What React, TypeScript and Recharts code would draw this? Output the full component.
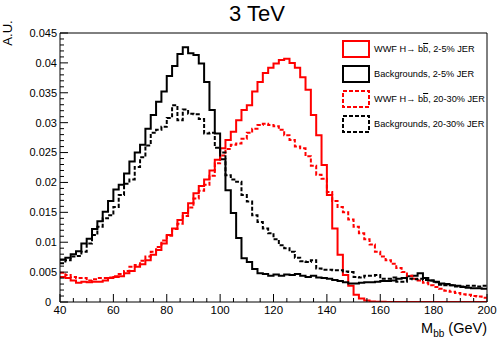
import { ComposedChart, Line, XAxis, YAxis, Legend, ReferenceLine } from 'recharts';

// lower edges of the 2 GeV mass bins, 40 .. 198
const massBins = Array.from({ length: 80 }, (_, i) => 40 + 2 * i);

// WWF H -> bb, 2-5% JER (red, solid)
const sigSharp = [
    0.0042, 0.0040, 0.0036, 0.0032, 0.0034, 0.0033, 0.0034, 0.0034, 0.0036, 0.0040,
    0.0042, 0.0043, 0.0048, 0.0052, 0.0059, 0.0063, 0.0070, 0.0079, 0.0087, 0.0098,
    0.0112, 0.0123, 0.0137, 0.0149, 0.0165, 0.0182, 0.0194, 0.0205, 0.0220, 0.0238,
    0.0257, 0.0271, 0.0285, 0.0304, 0.0321, 0.0329, 0.0352, 0.0368, 0.0383, 0.0392,
    0.0399, 0.0405, 0.0407, 0.0400, 0.0392, 0.0376, 0.0355, 0.0313, 0.0279, 0.0229,
    0.0179, 0.0123, 0.0079, 0.0045, 0.0027, 0.0012, 0.0006, 0.00025, 0.0001, 0.00005,
    0.00003, 0.00002, 0.00002, 0.00001, 0, 0, 0, 0, 0, 0,
    0, 0, 0, 0, 0, 0, 0, 0, 0, 0,
];

// Backgrounds, 2-5% JER (black, solid)
const bgSharp = [
    0.0071, 0.0074, 0.0080, 0.0085, 0.0098, 0.0106, 0.0122, 0.0135, 0.0151, 0.0169,
    0.0188, 0.0196, 0.0215, 0.0235, 0.0250, 0.0263, 0.0290, 0.0313, 0.0335, 0.0352,
    0.0378, 0.0395, 0.0415, 0.0426, 0.0416, 0.0413, 0.0399, 0.0368, 0.0321, 0.0282,
    0.0239, 0.0187, 0.0149, 0.0107, 0.0073, 0.0067, 0.0055, 0.0048, 0.0047, 0.0044,
    0.0046, 0.0044, 0.0046, 0.0045, 0.0047, 0.0044, 0.0042, 0.0044, 0.0041, 0.0040,
    0.0039, 0.0037, 0.0035, 0.0033, 0.0031, 0.0031, 0.0032, 0.0033, 0.0033, 0.0034,
    0.0035, 0.0035, 0.0036, 0.0039, 0.0040, 0.0043, 0.0044, 0.0048, 0.0040, 0.0036,
    0.0034, 0.0031, 0.0030, 0.0028, 0.0027, 0.0025, 0.0024, 0.0023, 0.0023, 0.0022,
];

// WWF H -> bb, 20-30% JER (red, dashed)
const sigBroad = [
    0.0049, 0.0045, 0.0042, 0.0040, 0.0040, 0.0036, 0.0038, 0.0040, 0.0040, 0.0041,
    0.0043, 0.0047, 0.0052, 0.0059, 0.0062, 0.0069, 0.0076, 0.0084, 0.0092, 0.0103,
    0.0111, 0.0122, 0.0131, 0.0144, 0.0158, 0.0173, 0.0186, 0.0196, 0.0211, 0.0232,
    0.0245, 0.0256, 0.0263, 0.0265, 0.0273, 0.0283, 0.0290, 0.0296, 0.0298, 0.0296,
    0.0294, 0.0288, 0.0279, 0.0271, 0.0260, 0.0257, 0.0244, 0.0228, 0.0213, 0.0206,
    0.0184, 0.0169, 0.0159, 0.0150, 0.0138, 0.0126, 0.0115, 0.0105, 0.0096, 0.0084,
    0.0076, 0.0070, 0.0064, 0.0057, 0.0050, 0.0044, 0.0039, 0.0036, 0.0032, 0.0028,
    0.0025, 0.0022, 0.0019, 0.0017, 0.0015, 0.0013, 0.0012, 0.0010, 0.0009, 0.0007,
];

// Backgrounds, 20-30% JER (black, dashed)
const bgBroad = [
    0.0065, 0.0070, 0.0076, 0.0077, 0.0084, 0.0098, 0.0112, 0.0126, 0.0140, 0.0145,
    0.0159, 0.0179, 0.0198, 0.0205, 0.0226, 0.0242, 0.0262, 0.0283, 0.0288, 0.0293,
    0.0308, 0.0329, 0.0304, 0.0322, 0.0315, 0.0314, 0.0306, 0.0282, 0.0283, 0.0258,
    0.0250, 0.0212, 0.0205, 0.0201, 0.0179, 0.0168, 0.0145, 0.0134, 0.0123, 0.0115,
    0.0105, 0.0095, 0.0090, 0.0084, 0.0074, 0.0068, 0.0067, 0.0070, 0.0056, 0.0054,
    0.0054, 0.0053, 0.0053, 0.0051, 0.0050, 0.0042, 0.0041, 0.0044, 0.0044, 0.0045,
    0.0039, 0.0039, 0.0041, 0.0034, 0.0034, 0.0039, 0.0038, 0.0039, 0.0037, 0.0036,
    0.0033, 0.0029, 0.0028, 0.0028, 0.0026, 0.0026, 0.0027, 0.0027, 0.0026, 0.0027,
];

const xTicks = [40, 45, 50, 55, 60, 65, 70, 75, 80, 85, 90, 95, 100, 105, 110, 115, 120,
    125, 130, 135, 140, 145, 150, 155, 160, 165, 170, 175, 180, 185, 190, 195, 200];
const xLabels = [40, 60, 80, 100, 120, 140, 160, 180, 200];
const yLabels = [0, 0.005, 0.01, 0.015, 0.02, 0.025, 0.03, 0.035, 0.04, 0.045];
const yTicks = Array.from({ length: 46 }, (_, i) => i / 1000);

const font = '"Liberation Sans", Arial, Helvetica, sans-serif';

// step histogram: one row per bin edge, the last edge repeats the last bin
const rows = massBins.map((m, i) => ({
    m,
    sigSharp: sigSharp[i],
    bgSharp: bgSharp[i],
    sigBroad: sigBroad[i],
    bgBroad: bgBroad[i],
}));
rows.push({ ...rows[rows.length - 1], m: 200 });

const series = [
    { key: 'sigSharp', color: '#ff0000', dash: undefined, sig: true, jer: '2-5% JER' },
    { key: 'bgSharp', color: '#000000', dash: undefined, sig: false, jer: '2-5% JER' },
    { key: 'sigBroad', color: '#ff0000', dash: '4 2', sig: true, jer: '20-30% JER' },
    { key: 'bgBroad', color: '#000000', dash: '4 2', sig: false, jer: '20-30% JER' },
];

const PLOT_LEFT = 60;
const PLOT_BOTTOM = 302;

function YTick({ y, payload }: any) {
    const v = payload.value;
    const major = yLabels.some((l) => Math.abs(l - v) < 1e-9);
    return (
        <g>
            <line x1={PLOT_LEFT} x2={PLOT_LEFT + (major ? 8 : 4)} y1={y} y2={y} stroke="#000" />
            {major && (
                <text x={v === 0 ? 51 : 57} y={y} dy="0.35em" textAnchor="end"
                    fontSize={11} fontFamily={font} fill="#000">
                    {String(v)}
                </text>
            )}
        </g>
    );
}

function XTick({ x, payload }: any) {
    const v = payload.value;
    const major = xLabels.includes(v);
    return (
        <g>
            <line x1={x} x2={x} y1={PLOT_BOTTOM} y2={PLOT_BOTTOM - (major ? 8 : 4)} stroke="#000" />
            {major && (
                <text x={x} y={314} textAnchor="middle" fontSize={11.5} fontFamily={font} fill="#000">
                    {v}
                </text>
            )}
        </g>
    );
}

function XTitle() {
    return (
        <text x={487} y={333} textAnchor="end" fontSize={14.5} fontFamily={font} fill="#000">
            M<tspan dy={4} fontSize={10}>bb</tspan>
            <tspan dy={-4}> (GeV)</tspan>
        </text>
    );
}

function LegendBox() {
    return (
        <div style={{ fontFamily: font, fontSize: 9.2, color: '#000' }}>
            {series.map((s) => (
                <div key={s.key} style={{ display: 'flex', alignItems: 'center', height: 25 }}>
                    <svg width={31} height={18} style={{ flex: 'none' }}>
                        <rect x={4} y={1} width={26} height={16} fill="none"
                            stroke={s.color} strokeWidth={2} strokeDasharray={s.dash} />
                    </svg>
                    <span style={{ marginLeft: 4, whiteSpace: 'nowrap' }}>
                        {s.sig ? (
                            <>WWF H{'\u2192'} b<span style={{ textDecoration: 'overline' }}>b</span>, {s.jer}</>
                        ) : (
                            <>Backgrounds, {s.jer}</>
                        )}
                    </span>
                </div>
            ))}
        </div>
    );
}

export default function App() {
    return (
        <div style={{ position: 'absolute', left: 0, top: 0, width: 498, height: 340, background: '#fff' }}>
            <div style={{
                position: 'absolute', left: 207, top: 2, width: 100, textAlign: 'center',
                fontFamily: font, fontSize: 22, lineHeight: '24px', color: '#000',
            }}>
                3 TeV
            </div>
            <div style={{
                position: 'absolute', left: -7, top: 26, width: 30, height: 14, textAlign: 'center',
                fontFamily: font, fontSize: 13, lineHeight: '14px', color: '#000',
                transform: 'rotate(-90deg)', zIndex: 1,
            }}>
                A.U.
            </div>
            <ComposedChart width={498} height={340} data={rows}
                margin={{ top: 33, right: 11, bottom: 0, left: 0 }}>
                <XAxis dataKey="m" type="number" domain={[40, 200]} ticks={xTicks} interval={0}
                    allowDataOverflow tickLine={false} tick={<XTick />} height={38}
                    axisLine={{ stroke: '#000' }} label={<XTitle />} />
                <YAxis type="number" domain={[0, 0.045]} ticks={yTicks} interval={0}
                    allowDataOverflow tickLine={false} tick={<YTick />} width={60}
                    axisLine={{ stroke: '#000' }} />
                <ReferenceLine y={0.045} stroke="#000" />
                <ReferenceLine x={200} stroke="#000" />
                {series.map((s) => (
                    <Line key={s.key} dataKey={s.key} type="stepAfter" stroke={s.color}
                        strokeWidth={2} strokeDasharray={s.dash} dot={false}
                        activeDot={false} isAnimationActive={false} />
                ))}
                <Legend layout="vertical" align="center" verticalAlign="middle"
                    wrapperStyle={{ position: 'absolute', left: 339, top: 36, width: 155 }}
                    content={() => <LegendBox />} />
            </ComposedChart>
        </div>
    );
}
